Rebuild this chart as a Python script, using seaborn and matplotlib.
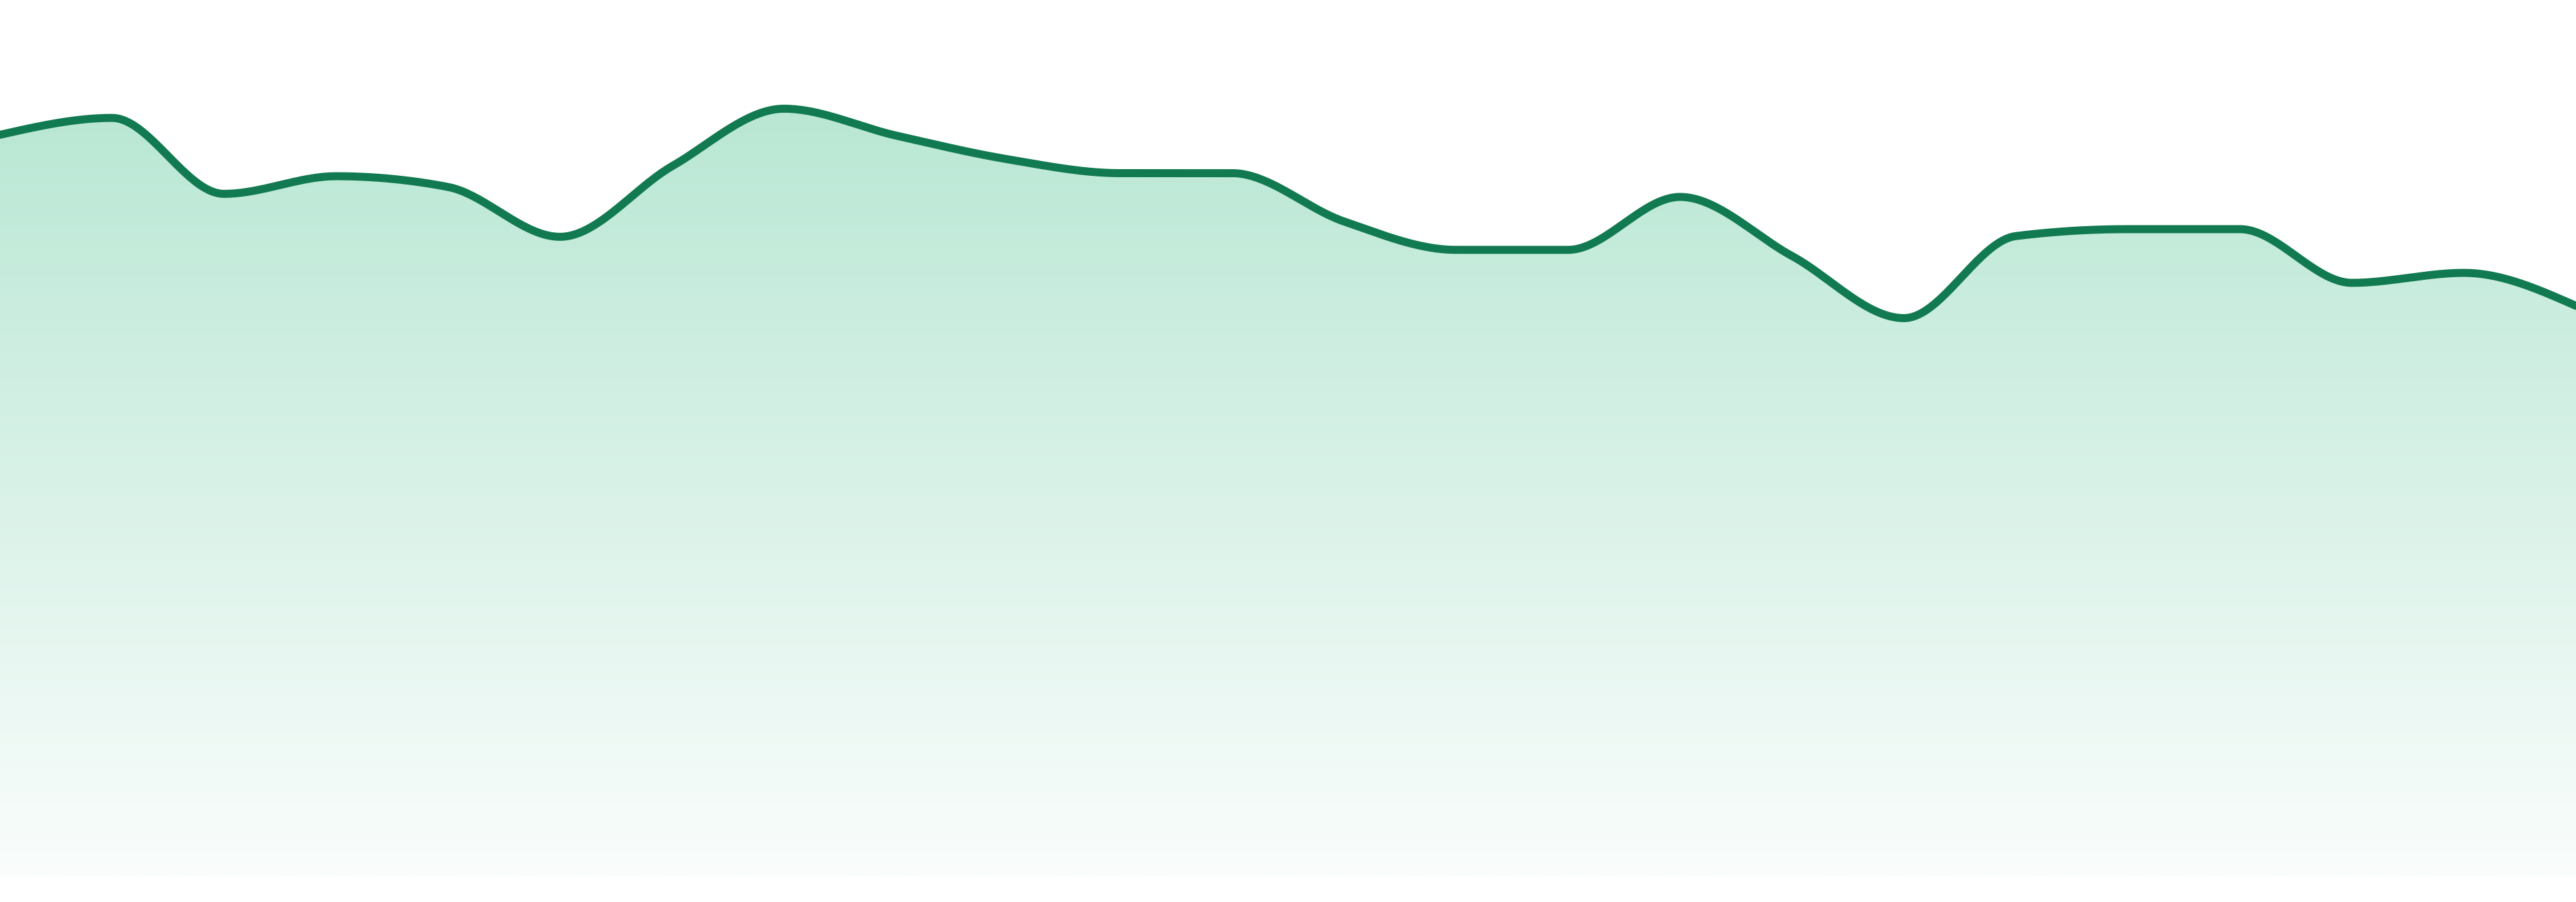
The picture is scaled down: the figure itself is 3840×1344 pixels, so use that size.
import numpy as np
import pandas as pd
import matplotlib
matplotlib.use("Agg")
import matplotlib.pyplot as plt
from matplotlib.patches import Polygon
import seaborn as sns

# values (24 evenly spaced points)
steps = list(range(24))
values = [96.6, 98.8, 88.9, 91.2, 89.8, 83.3, 92.5, 100.0,
          96.5, 93.4, 91.6, 91.6, 85.3, 81.6, 81.6, 88.5,
          80.8, 72.7, 83.4, 84.3, 84.3, 77.3, 78.6, 74.3]

LINE_COLOR = "#117a50"
TOP_RGB = (185, 231, 212)
BOTTOM_RGB = (250, 253, 252)


def monotone_x(x, y, n=40):
    # same tangents as d3.curveMonotoneX
    x = np.asarray(x, float)
    y = np.asarray(y, float)
    h = np.diff(x)
    s = np.diff(y) / h
    sg = lambda v: np.where(v < 0, -1.0, 1.0)
    t = np.zeros_like(y)
    p = (s[:-1] * h[1:] + s[1:] * h[:-1]) / (h[:-1] + h[1:])
    t[1:-1] = (sg(s[:-1]) + sg(s[1:])) * np.minimum.reduce(
        [np.abs(s[:-1]), np.abs(s[1:]), 0.5 * np.abs(p)])
    t[0] = (3 * s[0] - t[1]) / 2
    t[-1] = (3 * s[-1] - t[-2]) / 2
    xs, ys = [], []
    for i in range(len(x) - 1):
        u = np.linspace(0, 1, n, endpoint=(i == len(x) - 2))
        h00 = 2 * u**3 - 3 * u**2 + 1
        h10 = u**3 - 2 * u**2 + u
        h01 = -2 * u**3 + 3 * u**2
        h11 = u**3 - u**2
        xs.append(x[i] + u * h[i])
        ys.append(h00 * y[i] + h10 * h[i] * t[i] + h01 * y[i + 1] + h11 * h[i] * t[i + 1])
    return np.concatenate(xs), np.concatenate(ys)


sx, sy = monotone_x(steps, values)
curve = pd.DataFrame({"x": sx, "y": sy})

sns.set_theme(style="white")
fig = plt.figure(figsize=(38.4, 13.44), dpi=100)
ax = fig.add_axes([0, 0, 1, 1])

# vertical gradient, clipped to the area under the curve
ymax = max(values)
grad = np.linspace(0, 1, 256)[:, None]
top = np.array(TOP_RGB) / 255
bot = np.array(BOTTOM_RGB) / 255
img = top[None, None, :] * (1 - grad[..., None]) + bot[None, None, :] * grad[..., None]
im = ax.imshow(img, extent=[0, 23, 0, ymax], aspect="auto", origin="upper",
               interpolation="bilinear", zorder=1)
poly = Polygon(np.column_stack([np.r_[sx, sx[-1], sx[0]], np.r_[sy, 0, 0]]),
               closed=True, facecolor="none", edgecolor="none")
ax.add_patch(poly)
im.set_clip_path(poly)

sns.lineplot(data=curve, x="x", y="y", ax=ax, color=LINE_COLOR,
             linewidth=8.6, sort=False, estimator=None, zorder=3)
ax.set_xlim(0, 23)
ax.set_ylim(-3.41, 114.17)
ax.axis("off")

fig.savefig("out.png", dpi=100)
plt.close(fig)
